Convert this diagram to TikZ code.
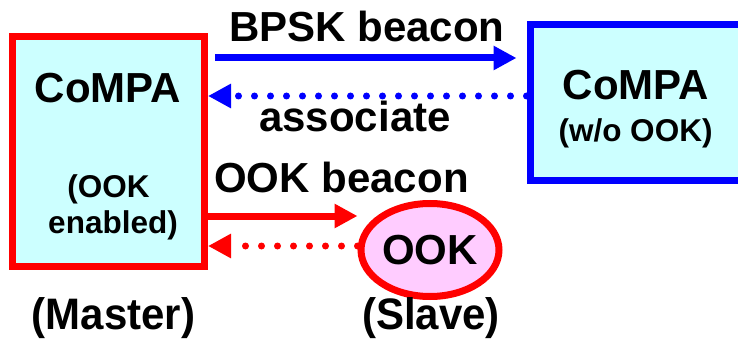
\documentclass[tikz,border=0pt]{standalone}
\usepackage{graphicx}
\usepackage{fontspec}
\setmainfont{Liberation Sans}
\usepackage{tikz}
\usetikzlibrary{arrows.meta,shapes.geometric,positioning}
\definecolor{boxcyan}{HTML}{CCFFFF}
\definecolor{ookpink}{HTML}{FFCCFF}

\begin{document}
\begin{tikzpicture}[x=1pt, y=-1pt,
	mybox/.style={rectangle,line width=7pt,fill=boxcyan,inner sep=0pt},
	myellipse/.style={ellipse,draw=red,line width=7pt,fill=ookpink,inner sep=0pt,
		minimum width=138pt,minimum height=93pt,font=\fontsize{42}{50}\selectfont\bfseries},
	mytext/.style={anchor=base,inner sep=0pt,font=\fontsize{42}{50}\selectfont\bfseries},
	mysmall/.style={anchor=base,inner sep=0pt,font=\fontsize{31.5}{36}\selectfont\bfseries},
	mysolid/.style={line width=7pt,-{Triangle[length=23pt,width=23pt]}},
	mydotted/.style={line width=7pt,line cap=round,dash pattern=on 0pt off 16pt,
		-{Triangle[length=23pt,width=23pt]}}]
	\useasboundingbox (0,0) rectangle (738,339);
	\node[mybox,draw=red,minimum width=192pt,minimum height=229.5pt] (Master) at (108.5,151.75) {};
	\node[mybox,draw=blue,minimum width=212pt,minimum height=155.5pt] (NoOOK) at (636,102.75) {};
	\node[myellipse] (Slave) at (430,250) {OOK};
	\node[mytext] (MasterName) at (108,103) {CoMPA};
	\node[mysmall] (MasterOOK) at (108.5,197) {(OOK};
	\node[mysmall] (MasterEn) at (113,233) {enabled)};
	\node[mytext] (NoOOKName) at (636,100) {CoMPA};
	\node[mysmall] (NoOOKSub) at (635.5,142) {(w/o OOK)};
	\node[mytext] (BPSKLabel) at (367,42) {BPSK beacon};
	\node[mytext] (AssocLabel) at (355,132) {associate};
	\node[mytext] (OOKLabel) at (341.5,192) {OOK beacon};
	\node[mytext] (MasterRole) at (113.5,329.5) {\scalebox{1}[1.05]{(Master)}};
	\node[mytext] (SlaveRole) at (431,329.5) {\scalebox{1}[1.05]{(Slave)}};
	\draw[mysolid,blue] ([xshift=7pt,yshift=93.75pt]Master.east) -- ([xshift=-10pt,yshift=44.75pt]NoOOK.west);
	\draw[mydotted,blue] ([yshift=6.75pt]NoOOK.west) -- ([yshift=55.75pt]Master.east);
	\draw[mysolid,red] ([yshift=-64.25pt]Master.east) -- ([yshift=34pt]Slave.west);
	\draw[mydotted,red] ([yshift=4pt]Slave.west) -- ([yshift=-94.25pt]Master.east);
\end{tikzpicture}
\end{document}
